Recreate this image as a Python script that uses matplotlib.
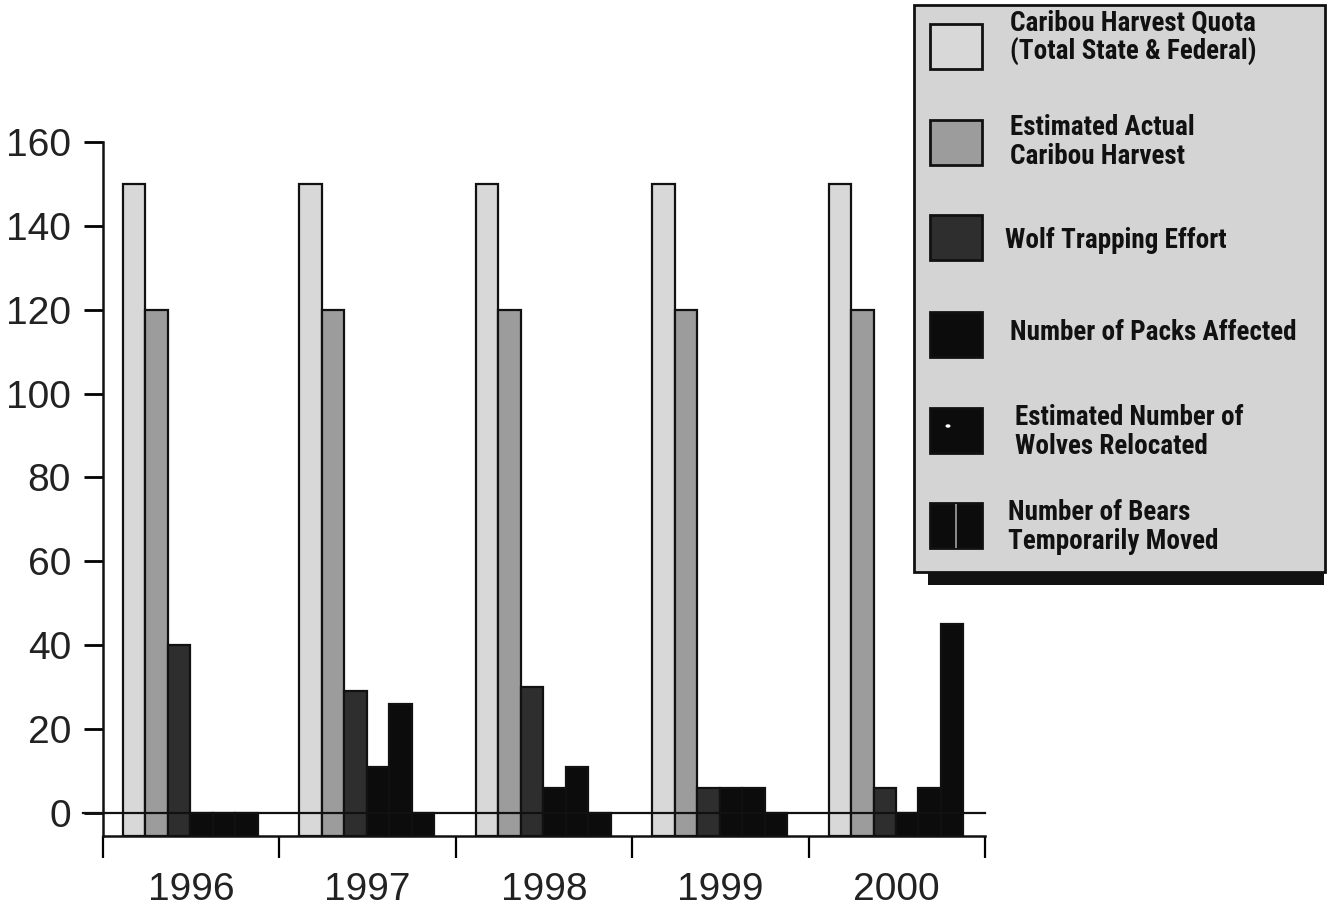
import numpy as np
import matplotlib
matplotlib.use('Agg')
import matplotlib.pyplot as plt
from matplotlib import font_manager
from matplotlib.patches import Rectangle, Circle

# data
years = ['1996', '1997', '1998', '1999', '2000']
quota = [150, 150, 150, 150, 150]
actual = [120, 120, 120, 120, 120]
wolf_trapping = [40, 29, 30, 6, 6]
packs = [0, 11, 6, 6, 0]
relocated = [0, 26, 11, 6, 6]
bears = [0, 0, 0, 0, 45]
yticks = [0, 20, 40, 60, 80, 100, 120, 140, 160]

series = [quota, actual, wolf_trapping, packs, relocated, bears]
labels = ['Caribou Harvest Quota\n(Total State & Federal)',
          'Estimated Actual\nCaribou Harvest',
          'Wolf Trapping Effort',
          'Number of Packs Affected',
          'Estimated Number of\nWolves Relocated',
          'Number of Bears\nTemporarily Moved']
colors = ['#d8d8d8', '#9c9c9c', '#2e2e2e', '#0c0c0c', '#0c0c0c', '#0c0c0c']

base = -5.5  # bars start at the axis line, a bit under zero

# pick a narrow bold font for the legend if one is there
names = {f.name for f in font_manager.fontManager.ttflist}
if 'Liberation Sans Narrow' in names:
    leg_font, leg_size = 'Liberation Sans Narrow', 19.5
elif 'Roboto Condensed' in names:
    leg_font, leg_size = 'Roboto Condensed', 19.5
else:
    leg_font, leg_size = 'Liberation Sans', 16

fig = plt.figure(figsize=(13.3, 9.16), dpi=100)
fig.patch.set_facecolor('white')
ax = fig.add_axes([103 / 1330, 1 - 836 / 916, 882 / 1330, 694 / 916])

w = 0.1275
x0 = np.arange(len(years)) + 0.113
for i, vals in enumerate(series):
    ax.bar(x0 + i * w, np.array(vals) - base, bottom=base, width=w, align='edge',
           color=colors[i], edgecolor='#111111', linewidth=1.6, zorder=2)

ax.axhline(0, xmin=-0.023, xmax=1.0, color='#111111', lw=1.6, clip_on=False, zorder=5)

ax.set_xlim(0, len(years))
ax.set_ylim(base, 160)
for s in ['top', 'right']:
    ax.spines[s].set_visible(False)
for s in ['left', 'bottom']:
    ax.spines[s].set_linewidth(1.8)
    ax.spines[s].set_color('#111111')

ax.set_yticks(yticks)
ax.set_yticklabels([str(v) for v in yticks])
ax.tick_params(axis='y', direction='out', length=14, width=2, pad=9,
               labelsize=28, labelcolor='#222222')
ax.set_xticks(np.arange(len(years) + 1))
ax.set_xticklabels([])
ax.set_xticks(np.arange(len(years)) + 0.5, minor=True)
ax.set_xticklabels(years, minor=True)
ax.tick_params(axis='x', which='major', direction='out', length=16, width=1.6)
ax.tick_params(axis='x', which='minor', length=0, pad=26, labelsize=28,
               labelcolor='#222222')
for t in ax.get_xticklabels(minor=True) + ax.get_yticklabels():
    t.set_family('Liberation Sans')


def fx(px):
    return px / 1330


def fy(py):
    return 1 - py / 916


# legend box with a drop shadow, drawn by hand
fig.add_artist(Rectangle((fx(928), fy(585)), fx(1324 - 928), (585 - 560) / 916,
                         transform=fig.transFigure, fc='#111111', ec='none', zorder=9))
fig.add_artist(Rectangle((fx(914), fy(572)), fx(1325 - 914), (572 - 5) / 916,
                         transform=fig.transFigure, fc='#d4d4d4', ec='#111111', lw=2,
                         zorder=10))

sw_top = [24, 120, 215, 312, 408, 503]
sw_h = 45
text_y = [38, 142, 240, 332, 432, 527]
text_x = [1010, 1010, 1005, 1010, 1015, 1008]
for i in range(len(labels)):
    fig.add_artist(Rectangle((fx(930), fy(sw_top[i] + sw_h)), fx(52), sw_h / 916,
                             transform=fig.transFigure, fc=colors[i], ec='#111111',
                             lw=2, zorder=11))
    fig.text(fx(text_x[i]), fy(text_y[i]), labels[i], family=leg_font, weight='bold',
             fontsize=leg_size, color='#111111', ha='left', va='center',
             linespacing=1.05, zorder=12)

# small marks inside the last two swatches
fig.add_artist(Circle((fx(948), fy(426)), 2.5 / 1330, transform=fig.transFigure,
                      fc='white', ec='none', zorder=12))
fig.add_artist(Rectangle((fx(955), fy(548)), 1.5 / 1330, 44 / 916,
                         transform=fig.transFigure, fc='#888888', ec='none', zorder=12))

fig.savefig('out.png', dpi=100, facecolor='white')
